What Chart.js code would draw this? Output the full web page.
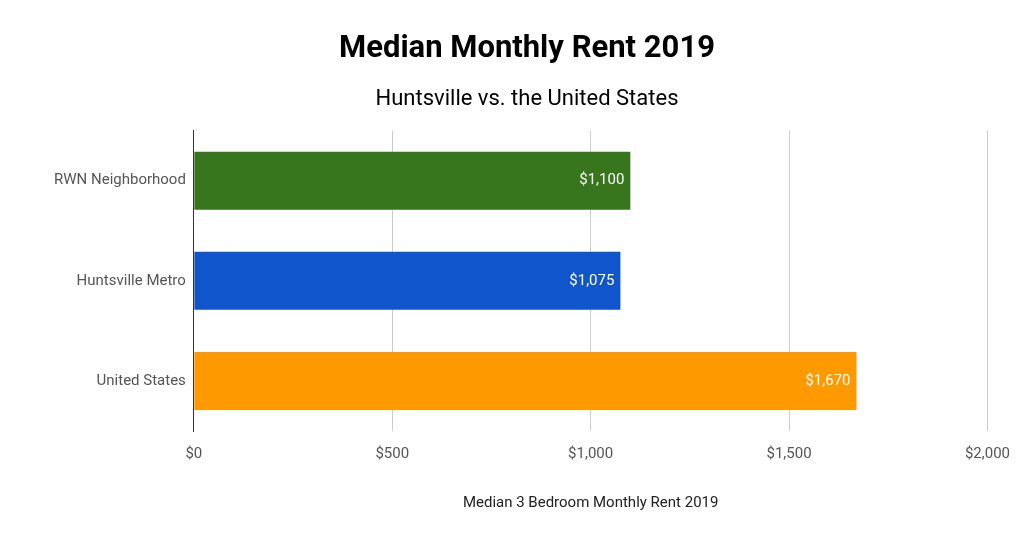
<!DOCTYPE html>
<html>
<head>
<meta charset="utf-8">
<script src="https://cdn.jsdelivr.net/npm/chart.js@4"></script>
<style>
  body { margin: 0; background: #fff; }
  canvas { display: block; }
</style>
</head>
<body>
<canvas id="chart" width="1024" height="538"></canvas>
<script>
'use strict';
const categories = ['RWN Neighborhood', 'Huntsville Metro', 'United States'];
const rentValues = [1100, 1075, 1670];
const barColors = ['#38761d', '#1155cc', '#ff9900'];
const xTicks = [0, 500, 1000, 1500, 2000];

const money = v => '$' + v.toLocaleString('en-US');

// white value labels at the inner end of each bar
const barLabels = {
    id: 'barLabels',
    afterDatasetsDraw(chart) {
        const ctx = chart.ctx;
        const meta = chart.getDatasetMeta(0);
        ctx.save();
        ctx.font = '15px Roboto';
        ctx.fillStyle = '#ffffff';
        ctx.textAlign = 'right';
        ctx.textBaseline = 'middle';
        meta.data.forEach((bar, i) => {
            ctx.fillText(money(rentValues[i]), bar.x - 6, bar.y);
        });
        ctx.restore();
    }
};

new Chart(document.getElementById('chart'), {
    type: 'bar',
    data: {
        labels: categories,
        datasets: [{
            data: rentValues,
            backgroundColor: barColors,
            barPercentage: 0.58,
            categoryPercentage: 1
        }]
    },
    plugins: [barLabels],
    options: {
        indexAxis: 'y',
        responsive: false,
        animation: false,
        layout: { padding: { left: 46, right: 16, top: 10, bottom: 22 } },
        plugins: {
            legend: { display: false },
            tooltip: { enabled: false },
            title: {
                display: true,
                text: 'Median Monthly Rent 2019',
                color: '#000',
                font: { family: 'Roboto', size: 31, weight: 'bold' },
                padding: { top: 21, bottom: 18 }
            },
            subtitle: {
                display: true,
                text: 'Huntsville vs. the United States',
                color: '#000',
                font: { family: 'Roboto', size: 22 },
                padding: { bottom: 18 }
            }
        },
        scales: {
            x: {
                min: 0,
                max: 2000,
                afterBuildTicks: axis => { axis.ticks = xTicks.map(v => ({ value: v })); },
                grid: { color: '#cccccc', drawTicks: false },
                border: { display: false },
                ticks: {
                    color: '#555',
                    padding: 14,
                    font: { family: 'Roboto', size: 15 },
                    callback: v => money(v)
                },
                title: {
                    display: true,
                    text: 'Median 3 Bedroom Monthly Rent 2019',
                    color: '#222',
                    font: { family: 'Roboto', size: 15 },
                    padding: { top: 17 }
                }
            },
            y: {
                grid: { display: false, drawTicks: false },
                border: { display: true, color: '#333', width: 1 },
                ticks: {
                    color: '#555',
                    padding: 8,
                    font: { family: 'Roboto', size: 15 }
                }
            }
        }
    }
});
</script>
</body>
</html>
